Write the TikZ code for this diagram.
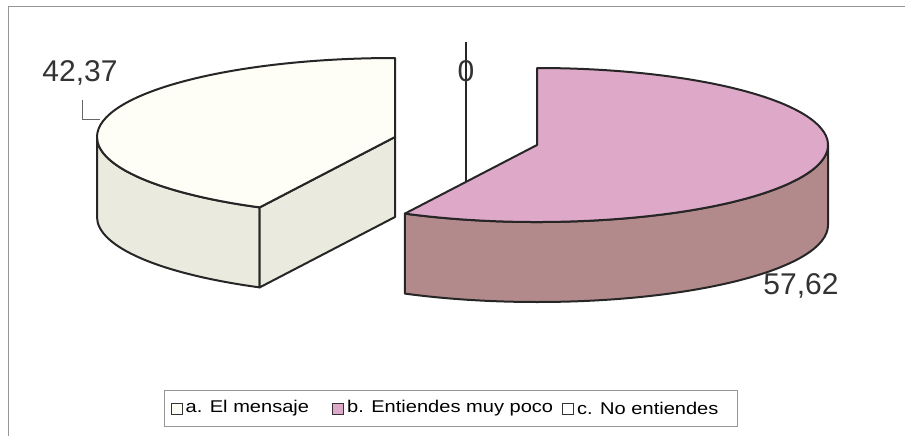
\documentclass[tikz,border=0pt]{standalone}
\usepackage{fontspec}
\setmainfont{Liberation Sans}
\usetikzlibrary{positioning}
\definecolor{topwhite}{RGB}{254,254,246}
\definecolor{sidegray}{RGB}{234,234,222}
\definecolor{toppink}{RGB}{222,168,200}
\definecolor{sidemauve}{RGB}{178,138,140}
\definecolor{framegray}{RGB}{150,150,150}
\newcommand{\legtext}[1]{\scalebox{1.18}[1]{#1}}

\begin{document}
\begin{tikzpicture}[x=1pt,y=1pt,
    slice/.style={draw=black!85,line width=2pt,line join=round},
    value/.style={font=\fontsize{30}{32}\selectfont,text=black!80,inner sep=0pt},
    legkey/.style={draw=black!80,line width=1pt,minimum size=11pt,inner sep=0pt},
    legitem/.style={font=\fontsize{17}{19}\selectfont,inner sep=0pt}]
  \useasboundingbox (0,0) rectangle (905,-436);
  \draw[framegray,line width=1pt] (8,-436) -- (8,-7) -- (905,-7);

  % b. Entiendes muy poco
  \begin{scope}[shift={(537,-145)}]
    \filldraw[slice,fill=sidemauve] (-117:291 and 77) arc[start angle=-117,end angle=0,x radius=291,y radius=77]
      -- ++(0,-80) arc[start angle=0,end angle=-117,x radius=291,y radius=77] -- cycle;
    \filldraw[slice,fill=toppink] (0,0) -- (-117:291 and 77) arc[start angle=-117,end angle=90,x radius=291,y radius=77] -- cycle;
  \end{scope}

  % a. El mensaje
  \begin{scope}[shift={(395,-137)}]
    \filldraw[slice,fill=sidegray] (180:298 and 79) arc[start angle=180,end angle=243,x radius=298,y radius=79]
      -- ++(0,-80) arc[start angle=243,end angle=180,x radius=298,y radius=79] -- cycle;
    \filldraw[slice,fill=sidegray] (0,0) -- (243:298 and 79) -- ++(0,-80) -- (0,-80) -- cycle;
    \filldraw[slice,fill=topwhite] (0,0) -- (90:298 and 79) arc[start angle=90,end angle=243,x radius=298,y radius=79] -- cycle;
  \end{scope}

  % values
  \node[value] (lblA) at (80,-73) {42,37};
  \node[value] (lblB) at (801,-286) {57,62};
  \coordinate (zeroTop) at (466,-42);
  \coordinate (zeroEnd) at (466,-181);
  \draw[black!85,line width=1.3pt] (zeroTop) -- (zeroEnd);
  \node[value] (lblC) at (466,-71) {0};
  \coordinate (leadA) at (82,-100);
  \coordinate (leadB) at (100,-119);
  \draw[black!60,line width=1pt] (leadA) |- (leadB);

  % legend
  \node[draw=framegray,line width=1pt,minimum width=573pt,minimum height=36pt] (legend) at (450.5,-408) {};
  \node[legkey,fill=topwhite] (keyA) at (176.5,-408.5) {};
  \node[legitem,right=3pt of keyA] (itemA) {\legtext{a. El mensaje}};
  \node[legkey,fill=toppink] (keyB) at (338,-408.5) {};
  \node[legitem,right=3pt of keyB] (itemB) {\legtext{b. Entiendes muy poco}};
  \node[legkey,fill=white] (keyC) at (568,-408.5) {};
  \node[legitem,right=3pt of keyC] (itemC) {\legtext{c. No entiendes}};
\end{tikzpicture}
\end{document}
